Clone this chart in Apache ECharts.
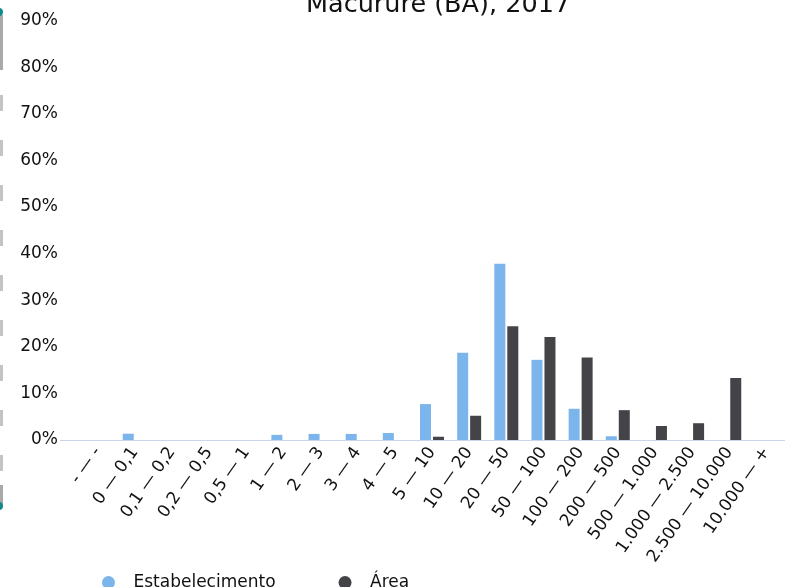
<!DOCTYPE html>
<html>
<head>
<meta charset="utf-8">
<script src="https://cdn.jsdelivr.net/npm/echarts@6/dist/echarts.min.js"></script>
<style>
html,body{margin:0;padding:0;background:#fff;}
#chart{width:785px;height:587px;}
</style>
</head>
<body>
<div id="chart"></div>
<script>
var titleText = 'Macururé (BA), 2017';
var categories = ['- — -', '0 — 0,1', '0,1 — 0,2', '0,2 — 0,5', '0,5 — 1', '1 — 2', '2 — 3', '3 — 4', '4 — 5', '5 — 10', '10 — 20', '20 — 50', '50 — 100', '100 — 200', '200 — 500', '500 — 1.000', '1.000 — 2.500', '2.500 — 10.000', '10.000 — +'];
var estabelecimento = [0, 1.35, 0, 0, 0, 1.1, 1.3, 1.3, 1.5, 7.7, 18.7, 37.8, 17.2, 6.7, 0.8, 0, 0, 0, 0];
var area = [0, 0, 0, 0, 0, 0, 0, 0, 0, 0.7, 5.2, 24.4, 22.1, 17.7, 6.4, 3.0, 3.6, 13.3, 0];
var seriesNames = ['Estabelecimento', 'Área'];
var yTicks = [0, 10, 20, 30, 40, 50, 60, 70, 80, 90];

var FONT = "'DejaVu Sans', Verdana, sans-serif";
var TXT = '#111111';
var chart = echarts.init(document.getElementById('chart'), null, {renderer: 'canvas'});
chart.setOption({
  animation: false,
  color: ['#7cb5ec', '#434348'],
  title: {
    text: titleText,
    left: 301,
    top: -12,
    textStyle: {fontFamily: FONT, fontSize: 25.5, fontWeight: 'normal', color: TXT, lineHeight: 25}
  },
  grid: {left: 79, right: -7, top: 20.5, bottom: 147, containLabel: false},
  legend: {
    data: seriesNames,
    left: 97,
    top: 569,
    itemWidth: 40,
    itemHeight: 13,
    itemGap: 63,
    icon: 'circle',
    textStyle: {fontFamily: FONT, fontSize: 17, color: TXT}
  },
  xAxis: {
    type: 'category',
    data: categories,
    axisLine: {lineStyle: {color: '#ccd6eb', width: 1}},
    axisTick: {show: false},
    axisLabel: {interval: 0, rotate: 55, margin: 9, fontFamily: FONT, fontSize: 17, color: TXT}
  },
  yAxis: {
    type: 'value',
    min: yTicks[0],
    max: yTicks[yTicks.length - 1],
    interval: 10,
    axisLine: {show: false},
    axisTick: {show: false},
    splitLine: {show: false},
    axisLabel: {formatter: '{value}%', margin: 21, padding: [4, 0, 0, 0], fontFamily: FONT, fontSize: 17, color: TXT}
  },
  series: [
    {name: seriesNames[0], type: 'bar', data: estabelecimento, barWidth: 11, barGap: '18%',
     itemStyle: {borderWidth: 0}},
    {name: seriesNames[1], type: 'bar', data: area, barWidth: 11, barGap: '18%',
     itemStyle: {borderWidth: 0}}
  ],
  graphic: [
    {type: 'line', shape: {x1: 60, y1: 440.5, x2: 79, y2: 440.5}, style: {stroke: '#ccd6eb', lineWidth: 1}, silent: true},
    {type: 'line', shape: {x1: 1.5, y1: 95, x2: 1.5, y2: 485}, style: {stroke: '#c4c4c4', lineWidth: 3, lineDash: [16, 29]}, silent: true},
    {type: 'rect', shape: {x: 0, y: 15, width: 3, height: 55}, style: {fill: '#a9a9a9'}, silent: true},
    {type: 'rect', shape: {x: 0, y: 485, width: 3, height: 20}, style: {fill: '#a9a9a9'}, silent: true},
    {type: 'circle', shape: {cx: -1, cy: 12, r: 4}, style: {fill: '#118a8a'}, silent: true},
    {type: 'circle', shape: {cx: -1, cy: 506, r: 4}, style: {fill: '#118a8a'}, silent: true}
  ]
});
</script>
</body>
</html>
